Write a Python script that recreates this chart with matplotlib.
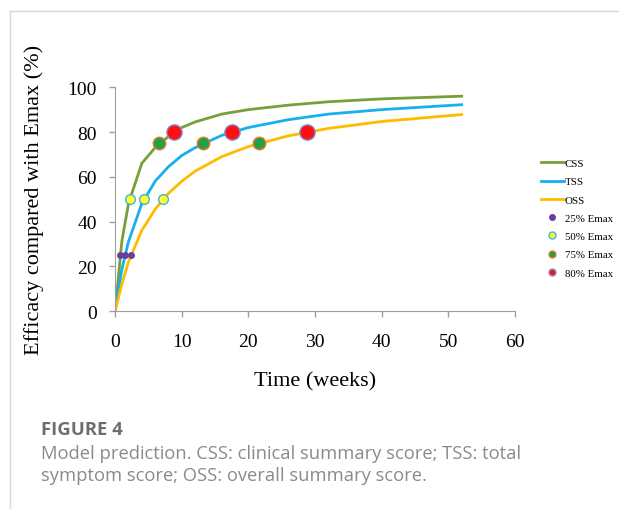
import matplotlib.pyplot as plt
from matplotlib.lines import Line2D

# curve values (time in weeks, efficacy in % of Emax)
weeks = [0, 1, 2, 4, 6, 8, 10, 12, 16, 20, 26, 32, 40, 52]
css = [0, 31, 48, 66, 73, 78, 82, 84.5, 88, 90, 92, 93.5, 94.8, 96]
tss = [0, 18.5, 31, 48, 58, 64.5, 69.5, 73, 78.5, 82, 85.5, 88, 90, 92.2]
oss = [0, 12, 22, 36, 45.5, 52.6, 58, 62.5, 69, 73.5, 78.3, 81.6, 84.7, 87.8]

# times at which each score reaches the marked fraction of Emax (CSS, TSS, OSS)
t25 = [0.73, 1.47, 2.4]
t50 = [2.2, 4.4, 7.2]
t75 = [6.6, 13.2, 21.6]
t80 = [8.8, 17.6, 28.8]

plt.rcParams['font.family'] = ['Liberation Serif', 'DejaVu Serif']

fig = plt.figure(figsize=(6.19, 5.10), dpi=100)
ax = fig.add_axes([0.186, 0.388, 0.646, 0.439])

ax.plot(weeks, css, color='#77a03a', lw=2, label='CSS')
ax.plot(weeks, tss, color='#16b0ec', lw=2, label='TSS')
ax.plot(weeks, oss, color='#ffbb00', lw=2, label='OSS')

ax.plot(t25, [25] * 3, 'o', ms=4, color='#6a3f9c', ls='none', zorder=5)
ax.plot(t50, [50] * 3, 'o', ms=7, mfc='#ffff33', mec='#3db6d8', mew=1, ls='none', zorder=5)
ax.plot(t75, [75] * 3, 'o', ms=9, mfc='#22a045', mec='#e87a2a', mew=1, ls='none', zorder=5)
ax.plot(t80, [80] * 3, 'o', ms=11, mfc='#ff1010', mec='#8090d0', mew=1, ls='none', zorder=5)

ax.set_xlim(0, 60)
ax.set_ylim(0, 100)
ax.set_xticks(range(0, 61, 10))
ax.set_yticks(range(0, 101, 20))
for s in ['top', 'right']:
    ax.spines[s].set_visible(False)
for s in ['left', 'bottom']:
    ax.spines[s].set_color('#a0a0a0')
ax.tick_params(colors='#a0a0a0', labelcolor='black', labelsize=14, length=4, width=1)
ax.tick_params(axis='y', pad=9)
ax.tick_params(axis='x', pad=12)
ax.set_xlabel('Time (weeks)', fontsize=16, labelpad=15)
ax.set_ylabel('Efficacy compared with Emax (%)', fontsize=16, labelpad=17)

handles = [
    Line2D([], [], color='#77a03a', lw=2, label='CSS'),
    Line2D([], [], color='#16b0ec', lw=2, label='TSS'),
    Line2D([], [], color='#ffbb00', lw=2, label='OSS'),
    Line2D([], [], marker='o', ls='none', ms=4, color='#6a3f9c', label='25% Emax'),
    Line2D([], [], marker='o', ls='none', ms=5, mfc='#ffff33', mec='#3db6d8', label='50% Emax'),
    Line2D([], [], marker='o', ls='none', ms=5, mfc='#22a045', mec='#e87a2a', label='75% Emax'),
    Line2D([], [], marker='o', ls='none', ms=5, mfc='#ff1010', mec='#8090d0', label='80% Emax'),
]
fig.legend(handles=handles, loc='upper left', bbox_to_anchor=(0.874, 0.687),
           frameon=False, fontsize=7.8, handlelength=2.1, handletextpad=0.1,
           labelspacing=0.8, borderaxespad=0, borderpad=0)

# page frame lines
fig.add_artist(Line2D([10 / 619, 1], [1 - 12 / 510] * 2, color='#d8d8d8', lw=1))
fig.add_artist(Line2D([10 / 619] * 2, [0, 1 - 12 / 510], color='#d8d8d8', lw=1))

fig.text(41 / 619, 1 - 430 / 510, 'FIGURE 4', fontsize=13.3, fontweight='bold',
         color='#6e6e6e', family='Open Sans', va='center')
fig.text(41 / 619, 1 - 465 / 510,
         'Model prediction. CSS: clinical summary score; TSS: total\nsymptom score; OSS: overall summary score.',
         fontsize=13.2, color='#8a8a8a', family='Open Sans', va='center', linespacing=1.25)

fig.savefig('out.png', dpi=100)
